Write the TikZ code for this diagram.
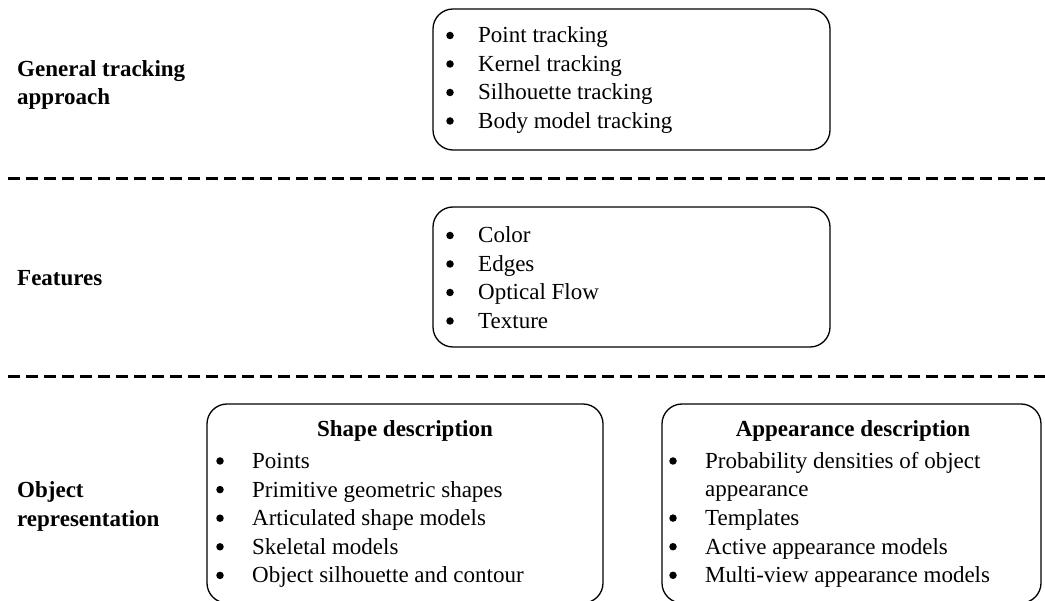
\documentclass[tikz,border=0pt]{standalone}
\usepackage{fontspec}
\setmainfont{Liberation Serif}
\begin{document}
\begin{tikzpicture}[x=1pt,y=-1pt,
  box/.style={draw=black,line width=1.3pt,rounded corners=20pt,inner sep=0pt},
  sep/.style={draw=black,line width=2.6pt,dash pattern=on 12pt off 6pt},
  txt/.style={anchor=base west,inner sep=0pt,font=\fontsize{23}{28}\selectfont},
  lbl/.style={anchor=base west,inner sep=0pt,font=\fontsize{23}{28}\selectfont\bfseries},
  hdr/.style={anchor=base,inner sep=0pt,font=\fontsize{23}{28}\selectfont\bfseries},
  bul/.style={circle,fill=black,inner sep=0pt,minimum size=7.5pt,yshift=7.5pt}]
\useasboundingbox (0,0) rectangle (1045,601);
\clip (0,0) rectangle (1045,601);
% separators
\coordinate (s1a) at (8,178.5); \coordinate (s1b) at (1045,178.5);
\coordinate (s2a) at (8,376.5); \coordinate (s2b) at (1045,376.5);
\draw[sep] (s1a) -- (s1b);
\draw[sep] (s2a) -- (s2b);
% left labels
\node[lbl] (l1) at (17,77) {General tracking};
\node[lbl] (l2) at (17,105) {approach};
\node[lbl] (l3) at (17,286) {Features};
\node[lbl] (l4) at (17,498) {Object};
\node[lbl] (l5) at (17,527) {representation};
% boxes
\node[box,minimum width=397pt,minimum height=141pt] (b1) at (631.5,79.5) {};
\node[box,minimum width=397pt,minimum height=140pt] (b2) at (631.5,277) {};
\node[box,minimum width=396pt,minimum height=199pt] (b3) at (405,503.5) {};
\node[box,minimum width=379pt,minimum height=199pt] (b4) at (851.5,503.5) {};
% top box items
\foreach \t [count=\i] in {Point tracking,Kernel tracking,Silhouette tracking,Body model tracking}{
  \node[bul] (t1b\i) at (450,{43+28.5*(\i-1)}) {};
  \node[txt] (t1\i) at (478,{43+28.5*(\i-1)}) {\t};
}
% features items
\foreach \t [count=\i] in {Color,Edges,Optical Flow,Texture}{
  \node[bul] (t2b\i) at (450,{243+28.5*(\i-1)}) {};
  \node[txt] (t2\i) at (478,{243+28.5*(\i-1)}) {\t};
}
% shape description
\node[hdr] (h3) at (405,437) {Shape description};
\foreach \t [count=\i] in {Points,Primitive geometric shapes,Articulated shape models,Skeletal models,Object silhouette and contour}{
  \node[bul] (t3b\i) at (220,{468.5+28.6*(\i-1)}) {};
  \node[txt] (t3\i) at (252,{468.5+28.6*(\i-1)}) {\t};
}
% appearance description
\node[hdr] (h4) at (853,437) {Appearance description};
\node[bul] (t4b1) at (673,468.5) {};
\node[txt] (t41) at (705,468.5) {Probability densities of object};
\node[txt] (t41b) at (705,497) {appearance};
\foreach \t [count=\i] in {Templates,Active appearance models,Multi-view appearance models}{
  \node[bul] (t4b\i x) at (673,{525.6+28.6*(\i-1)}) {};
  \node[txt] (t4\i x) at (705,{525.6+28.6*(\i-1)}) {\t};
}
\end{tikzpicture}
\end{document}
